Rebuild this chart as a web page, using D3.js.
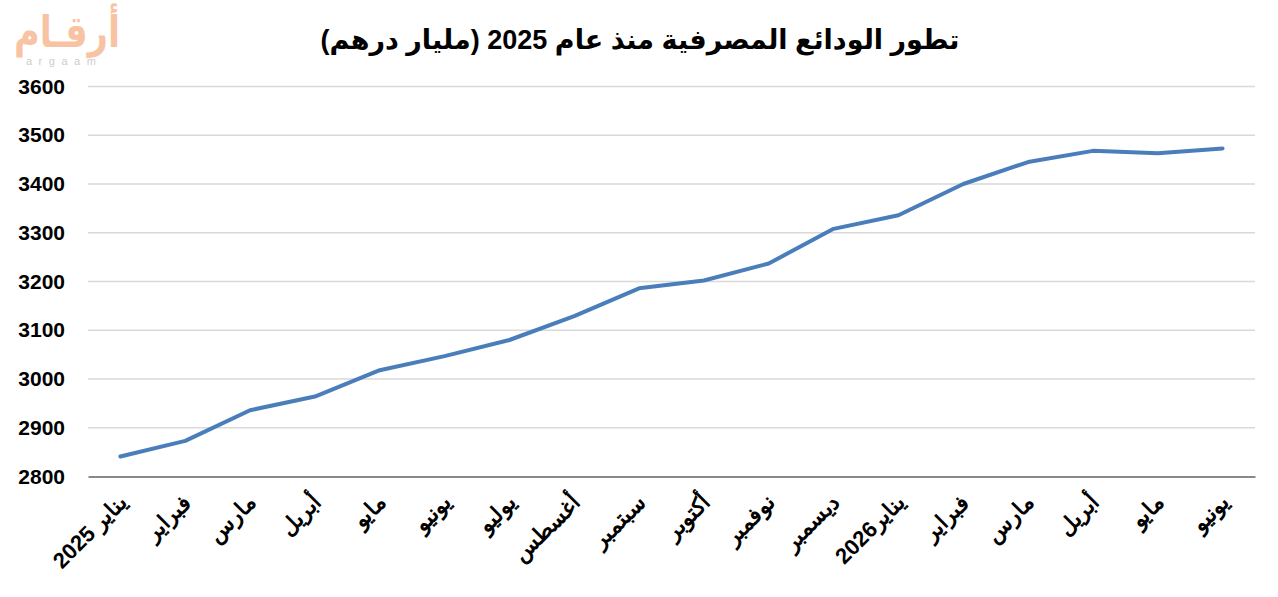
<!DOCTYPE html>
<html>
<head>
<meta charset="utf-8">
<script src="https://cdn.jsdelivr.net/npm/d3@7"></script>
<style>
  body { margin: 0; background: #fff; }
  svg { display: block; font-family: Arial, "Liberation Sans", "DejaVu Sans", sans-serif; }
</style>
</head>
<body>
<div id="chart"></div>
<script>
// ── Data ──────────────────────────────────────────────────────────────────────
const months = [
  "يناير 2025", "فبراير", "مارس", "أبريل", "مايو", "يونيو", "يوليو", "أغسطس",
  "سبتمبر", "أكتوبر", "نوفمبر", "ديسمبر", "يناير2026", "فبراير", "مارس",
  "أبريل", "مايو", "يونيو"
];
const deposits = [
  2841, 2873, 2936, 2964, 3018, 3047, 3080, 3129,
  3186, 3202, 3237, 3308, 3336, 3400, 3445,
  3468, 3463, 3473
];
const yTicks = [2800, 2900, 3000, 3100, 3200, 3300, 3400, 3500, 3600];
const title = "تطور الودائع المصرفية منذ عام 2025 (مليار درهم)";

// ── Layout ────────────────────────────────────────────────────────────────────
const W = 1278, H = 597;
const margin = { top: 86.5, right: 23, bottom: 120.5, left: 88 };
const width = W - margin.left - margin.right;
const height = H - margin.top - margin.bottom;

const svg = d3.select("#chart").append("svg")
  .attr("width", W).attr("height", H);

// logo
const logo = svg.append("g").style("opacity", 0.5);
logo.append("text")
  .attr("x", 14).attr("y", 47)
  .attr("textLength", 106).attr("lengthAdjust", "spacingAndGlyphs")
  .style("font-size", "44px").style("font-weight", "bold")
  .style("fill", "#f08848")
  .text("أرقـام");
logo.append("text")
  .attr("x", 26).attr("y", 65)
  .style("font-size", "11px")
  .style("letter-spacing", "6.5px")
  .style("fill", "#9a9a9a")
  .text("argaam");

svg.append("text")
  .attr("x", 640).attr("y", 49)
  .attr("text-anchor", "middle")
  .attr("direction", "rtl")
  .style("font-size", "27px").style("font-weight", "bold")
  .style("fill", "#000")
  .text(title);

const g = svg.append("g").attr("transform", `translate(${margin.left},${margin.top})`);

const x = d3.scaleBand().domain(d3.range(months.length)).range([0, width]);
const y = d3.scaleLinear().domain([2800, 3600]).range([height, 0]);

// gridlines
g.append("g")
  .selectAll("line").data(yTicks.slice(1)).join("line")
  .attr("x1", 0).attr("x2", width)
  .attr("y1", d => y(d)).attr("y2", d => y(d))
  .attr("stroke", "#d9d9d9").attr("stroke-width", 1.5);

// y axis labels
const yAxis = g.append("g")
  .call(d3.axisLeft(y).tickValues(yTicks).tickFormat(d3.format("d")).tickSize(0).tickPadding(23));
yAxis.select(".domain").remove();
yAxis.selectAll("text")
  .style("font-size", "21px").style("font-weight", "bold").style("fill", "#000")
  .style("font-family", "Arial, 'Liberation Sans', sans-serif");

// x axis baseline + labels (rtl: anchor "start" = right end of the text)
const xAxis = g.append("g")
  .attr("transform", `translate(0,${height})`)
  .call(d3.axisBottom(x).tickSize(0).tickFormat(i => months[i]));
xAxis.select(".domain").attr("stroke", "#898989").attr("stroke-width", 2);
xAxis.selectAll("text")
  .attr("text-anchor", "start")
  .attr("direction", "rtl")
  .attr("transform", "translate(-2,18) rotate(-45)")
  .attr("x", 0).attr("y", 0).attr("dy", "0.6em")
  .style("font-size", "22px").style("font-weight", "bold").style("fill", "#000");

// line
const line = d3.line()
  .x((d, i) => x(i) + x.bandwidth() / 2)
  .y(d => y(d));

g.append("path")
  .datum(deposits)
  .attr("fill", "none")
  .attr("stroke", "#4a7ebb")
  .attr("stroke-width", 4)
  .attr("stroke-linejoin", "round")
  .attr("stroke-linecap", "round")
  .attr("d", line);
</script>
</body>
</html>
